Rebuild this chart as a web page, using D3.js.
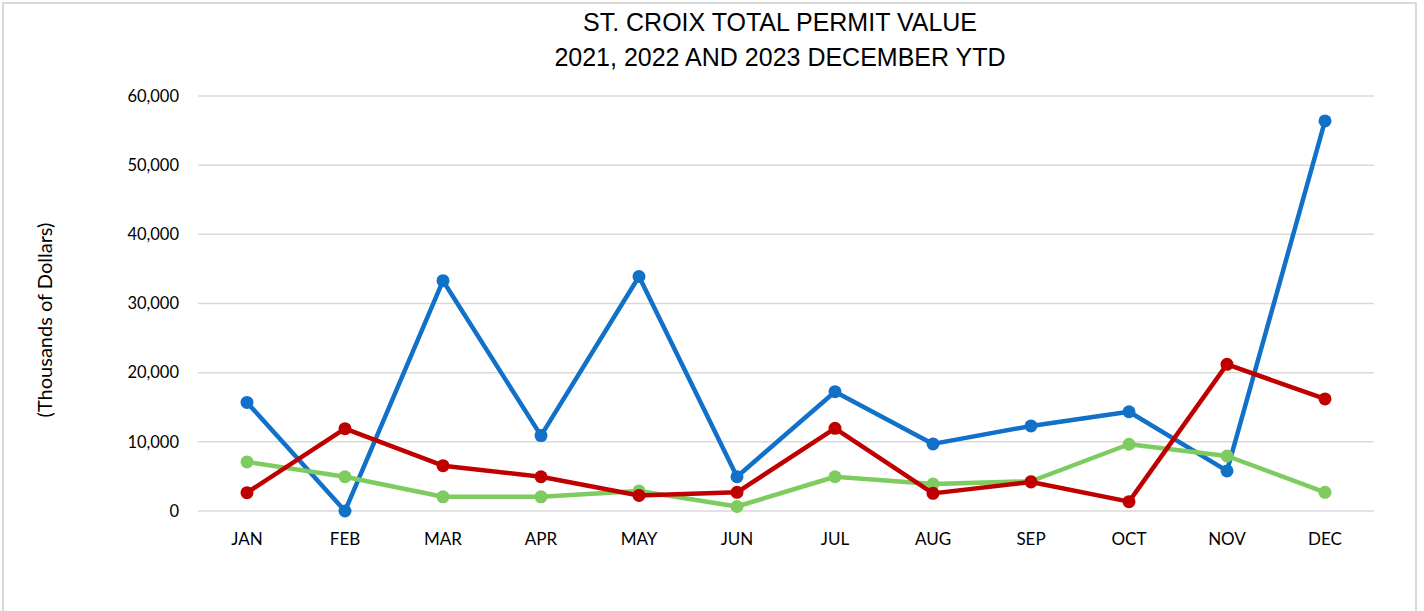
<!DOCTYPE html>
<html>
<head>
<meta charset="utf-8">
<script src="https://cdn.jsdelivr.net/npm/d3@7"></script>
<style>
  html, body { margin: 0; padding: 0; background: #fff; }
  svg { display: block; }
</style>
</head>
<body>
<svg id="chart" width="1424" height="611"></svg>
<script>
const months = ["JAN","FEB","MAR","APR","MAY","JUN","JUL","AUG","SEP","OCT","NOV","DEC"];
const seriesBlue  = [15700, 0, 33300, 10900, 33900, 4950, 17250, 9700, 12300, 14350, 5800, 56400];
const seriesGreen = [7100, 4950, 2050, 2050, 2900, 650, 4950, 3900, 4300, 9650, 7950, 2700];
const seriesRed   = [2650, 11900, 6550, 4950, 2250, 2700, 11950, 2550, 4200, 1350, 21200, 16200];
const yTicks = [0, 10000, 20000, 30000, 40000, 50000, 60000];
const titleLines = ["ST. CROIX TOTAL PERMIT VALUE", "2021, 2022 AND 2023 DECEMBER YTD"];
const yLabel = "(Thousands of Dollars)";

const svg = d3.select("#chart");
const plot = { left: 198, right: 1374, top: 96, bottom: 511 };

// border
svg.append("rect").attr("x", 3).attr("y", 3).attr("width", 1413).attr("height", 640)
  .attr("fill", "none").attr("stroke", "#d9d9d9").attr("stroke-width", 2);

const x = d3.scaleBand().domain(months).range([plot.left, plot.right]);
const y = d3.scaleLinear().domain([0, 60000]).range([plot.bottom, plot.top]);

// gridlines
svg.append("g").selectAll("line").data(yTicks).join("line")
  .attr("x1", plot.left).attr("x2", plot.right)
  .attr("y1", d => y(d)).attr("y2", d => y(d))
  .attr("stroke", "#d9d9d9").attr("stroke-width", 1.5);

// y axis
const yAxis = d3.axisLeft(y).tickValues(yTicks).tickFormat(d3.format(",")).tickSize(0).tickPadding(19);
const gy = svg.append("g").attr("transform", `translate(${plot.left},0)`).call(yAxis);
gy.select(".domain").remove();
gy.selectAll("text").attr("font-family", "Lato, 'Open Sans', sans-serif").attr("font-size", 16.5).attr("fill", "#000");

// x axis
const xAxis = d3.axisBottom(x).tickSize(0).tickPadding(22);
const gx = svg.append("g").attr("transform", `translate(0,${plot.bottom})`).call(xAxis);
gx.select(".domain").remove();
gx.selectAll("text").attr("font-family", "Lato, 'Open Sans', sans-serif").attr("font-size", 17).attr("fill", "#000");

// title
svg.append("g").selectAll("text").data(titleLines).join("text")
  .attr("x", 780).attr("y", (d, i) => 31 + i * 35)
  .attr("text-anchor", "middle")
  .attr("font-family", "'Liberation Sans', Arial, sans-serif").attr("font-size", 25).attr("fill", "#000")
  .text(d => d);

// y label
svg.append("text").attr("transform", "translate(52,320) rotate(-90)")
  .attr("text-anchor", "middle")
  .attr("font-family", "Lato, 'Open Sans', sans-serif").attr("font-size", 20).attr("fill", "#000")
  .text(yLabel);

const line = d3.line().x((d, i) => x(months[i]) + x.bandwidth() / 2).y(d => y(d));
const series = [
  { values: seriesBlue, color: "#1170c8" },
  { values: seriesGreen, color: "#7ecb60" },
  { values: seriesRed, color: "#c00000" }
];
series.forEach(s => {
  const g = svg.append("g");
  g.append("path").datum(s.values).attr("d", line)
    .attr("fill", "none").attr("stroke", s.color).attr("stroke-width", 4.5)
    .attr("stroke-linejoin", "round");
  g.selectAll("circle").data(s.values).join("circle")
    .attr("cx", (d, i) => x(months[i]) + x.bandwidth() / 2)
    .attr("cy", d => y(d)).attr("r", 6.5).attr("fill", s.color);
});
</script>
</body>
</html>
